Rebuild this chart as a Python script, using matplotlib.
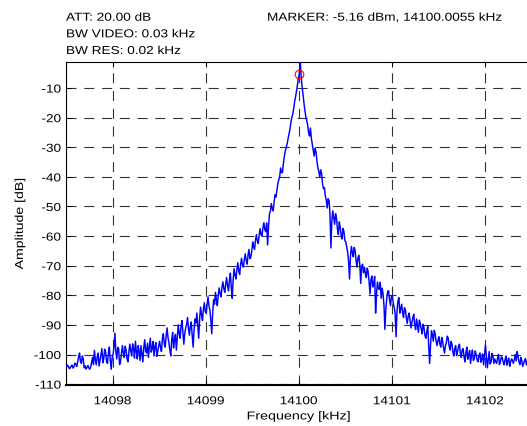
import numpy as np
import matplotlib
matplotlib.use("Agg")
import matplotlib.pyplot as plt
from matplotlib import patheffects
from matplotlib.transforms import Affine2D

# Sweep settings of the trace
freq_start = 14097.5055   # kHz
freq_step = 0.01          # kHz per sample

# Measured amplitude per sample (dB), 0.2 kHz per row
amplitude = [
    -104.3, -103.6, -104.0, -104.8, -104.5, -103.9, -103.6, -104.6, -104.1, -102.9,
    -103.2, -104.0, -102.5, -100.8, -99.5, -102.4, -103.0, -100.5, -101.5, -104.5,
    -103.8, -104.9, -104.4, -103.7, -104.6, -105.0, -104.2, -102.5, -101.0, -103.4,
    -98.6, -101.8, -103.5, -100.6, -99.5, -103.9, -102.0, -100.2, -98.0, -102.8,
    -101.5, -98.2, -99.0, -102.4, -103.0, -99.6, -97.5, -101.8, -105.0, -101.2,
    -100.0, -97.4, -92.8, -99.0, -101.5, -97.6, -98.0, -103.4, -102.5, -99.8,
    -97.0, -99.5, -101.0, -97.2, -98.5, -101.4, -102.5, -99.0, -96.5, -98.8,
    -100.5, -96.4, -98.0, -101.2, -95.5, -99.0, -101.5, -97.0, -99.0, -102.0,
    -97.0, -99.8, -102.5, -97.6, -95.0, -98.8, -99.5, -96.2, -101.0, -97.4,
    -94.5, -99.2, -98.0, -95.6, -100.5, -97.2, -96.0, -100.6, -99.0, -97.0,
    -95.5, -97.8, -99.0, -94.6, -93.0, -96.4, -97.5, -93.8, -91.0, -94.2,
    -96.0, -98.6, -100.5, -95.0, -92.5, -97.8, -95.0, -93.2, -98.5, -94.4,
    -90.0, -92.8, -94.5, -90.6, -88.5, -92.4, -96.5, -93.0, -91.0, -89.8,
    -87.5, -91.2, -93.5, -90.4, -89.0, -93.6, -97.5, -91.8, -88.0, -89.4,
    -86.0, -90.2, -94.5, -87.8, -84.0, -86.6, -88.5, -84.8, -82.5, -85.4,
    -86.0, -83.2, -80.5, -83.6, -85.0, -88.4, -93.0, -86.2, -81.5, -83.0,
    -79.0, -81.6, -83.5, -79.8, -77.5, -79.6, -80.5, -77.2, -75.5, -77.8,
    -79.0, -76.2, -74.0, -76.8, -78.5, -75.0, -72.5, -77.4, -81.0, -74.6,
    -71.0, -73.2, -74.5, -71.4, -69.0, -71.8, -73.0, -69.6, -67.5, -69.8,
    -70.5, -67.8, -66.0, -68.2, -69.5, -66.4, -64.5, -67.6, -67.0, -65.0,
    -62.0, -63.6, -64.5, -61.2, -59.5, -61.8, -62.5, -59.4, -57.5, -59.6,
    -60.0, -57.2, -55.5, -57.8, -58.5, -55.6, -63.0, -56.8, -52.5, -51.6,
    -49.0, -50.8, -51.5, -48.4, -46.0, -46.8, -44.5, -42.2, -41.0, -39.8,
    -37.0, -38.6, -38.5, -35.4, -33.0, -31.2, -30.0, -28.8, -27.0, -25.4,
    -24.0, -21.6, -20.0, -18.8, -17.0, -14.6, -13.0, -11.2, -9.0, -6.8,
    -5.16, -0.5, -6.0, -9.5, -12.0, -15.0, -17.5, -19.6, -21.0, -22.4,
    -25.0, -26.2, -23.5, -27.0, -29.0, -30.8, -33.0, -30.4, -31.5, -34.6,
    -37.0, -38.2, -40.0, -37.6, -39.0, -42.4, -44.0, -43.6, -46.5, -47.8,
    -50.5, -47.4, -48.0, -52.6, -64.0, -54.8, -51.5, -53.8, -56.0, -52.4,
    -54.0, -57.6, -59.5, -55.2, -57.0, -59.8, -61.0, -57.4, -58.5, -61.6,
    -62.0, -63.8, -65.5, -68.6, -74.5, -66.8, -63.5, -65.6, -67.0, -63.8,
    -65.0, -68.2, -70.5, -67.4, -66.5, -69.6, -76.0, -70.2, -69.5, -72.4,
    -70.5, -72.6, -74.0, -70.8, -72.0, -75.4, -79.5, -74.8, -73.5, -77.2,
    -76.0, -73.6, -86.0, -79.4, -75.5, -77.8, -78.0, -75.6, -81.0, -77.6,
    -79.5, -83.4, -91.5, -84.6, -81.0, -78.6, -78.5, -81.6, -83.5, -80.4,
    -80.0, -82.8, -84.0, -86.4, -94.0, -85.2, -82.0, -80.8, -86.0, -84.6,
    -83.0, -85.8, -87.5, -84.2, -85.0, -87.6, -89.5, -87.0, -86.0, -88.6,
    -91.0, -89.2, -87.5, -86.4, -90.0, -91.6, -88.0, -90.2, -92.5, -88.4,
    -89.5, -91.4, -93.0, -89.8, -91.0, -93.6, -94.5, -92.2, -90.5, -96.4,
    -103.0, -97.0, -92.0, -93.4, -95.5, -91.8, -93.0, -95.6, -97.0, -95.2,
    -94.0, -96.4, -97.5, -94.2, -95.5, -97.8, -99.5, -97.0, -96.0, -93.8,
    -94.5, -97.2, -98.5, -95.6, -96.5, -99.2, -100.5, -98.0, -97.0, -100.4,
    -99.0, -97.4, -96.5, -99.6, -101.0, -98.4, -98.0, -100.8, -102.5, -99.4,
    -97.5, -101.6, -100.0, -98.6, -103.0, -100.2, -98.5, -102.0, -101.5, -98.8,
    -100.0, -101.8, -102.5, -100.4, -99.5, -102.6, -101.5, -99.8, -103.5, -100.2,
    -96.8, -100.8, -104.5, -101.6, -99.0, -103.2, -102.5, -99.6, -100.5, -103.0,
    -101.5, -102.4, -103.0, -101.2, -100.0, -103.4, -102.5, -100.8, -101.0, -102.6,
    -103.5, -101.8, -100.5, -103.6, -102.0, -101.2, -104.0, -102.6, -101.5, -102.0,
    -103.0, -101.6, -100.0, -102.2, -99.0, -100.6, -102.5, -103.4, -101.0, -102.0,
    -104.0, -103.0, -102.0, -101.4, -103.5, -102.4, -101.5, -104.2, -103.0, -103.4,
    -102.5,
]

marker_freq = 14100.0055
marker_level = -5.16

x_ticks = [14098, 14099, 14100, 14101, 14102]
y_ticks = [-110, -100, -90, -80, -70, -60, -50, -40, -30, -20, -10]

header_left = ["ATT: 20.00 dB", "BW VIDEO: 0.03 kHz", "BW RES: 0.02 kHz"]
header_right = "MARKER: -5.16 dBm, 14100.0055 kHz"

FONT = "Liberation Sans"
FS = 8.3
plt.rcParams["font.family"] = [FONT, "DejaVu Sans"]
plt.rcParams["font.size"] = FS


class Widen(patheffects.AbstractPathEffect):
    """Draw text slightly stretched along its baseline (wide-tracked look)."""

    def __init__(self, factor, anchor="left"):
        super().__init__()
        self._factor = factor
        self._anchor = anchor

    def draw_path(self, renderer, gc, tpath, affine, rgbFace=None):
        ext = tpath.get_extents()
        if self._anchor == "center":
            x0 = 0.5 * (ext.x0 + ext.x1)
        elif self._anchor == "right":
            x0 = ext.x1
        else:
            x0 = 0.0
        stretch = Affine2D().translate(-x0, 0).scale(self._factor, 1.0).translate(x0, 0)
        renderer.draw_path(gc, tpath, stretch + affine, rgbFace)


WIDE = 1.18

W, H = 527, 426
fig = plt.figure(figsize=(W / 100, H / 100), dpi=100)
ax = fig.add_axes([66 / W, 1 - 385 / H, 465.5 / W, 323 / H])

freq = freq_start + freq_step * np.arange(len(amplitude))
ax.plot(freq, amplitude, color="#0000ff", linewidth=1.05, zorder=3)
ax.plot([marker_freq], [marker_level], marker="o", markersize=6.2,
        markerfacecolor="none", markeredgecolor="red", markeredgewidth=0.8,
        linestyle="none", zorder=4)

ax.set_xlim(14097.5, 14102.5)
ax.set_ylim(-110.3, -1.2)
ax.set_xticks(x_ticks)
ax.set_xticklabels([str(t) for t in x_ticks])
ax.set_yticks(y_ticks)
ax.set_yticklabels([str(t) for t in y_ticks])

ax.grid(True, color="0.2", linewidth=0.8, linestyle=(0, (9.0, 7.0)))
ax.set_axisbelow(True)
ax.tick_params(direction="in", length=3.6, width=0.7, top=True, right=False,
               colors="black", labelsize=FS)
ax.tick_params(axis="x", pad=7.4)
ax.tick_params(axis="y", pad=3.6)

for lbl in ax.get_xticklabels():
    lbl.set_path_effects([Widen(WIDE, "center")])
for lbl in ax.get_yticklabels():
    lbl.set_path_effects([Widen(WIDE, "right")])

for side in ("top", "left"):
    ax.spines[side].set_linewidth(0.8)
ax.spines["bottom"].set_linewidth(1.5)
ax.spines["right"].set_visible(False)

xl = ax.set_xlabel("Frequency [kHz]", labelpad=2.3)
yl = ax.set_ylabel("Amplitude [dB]", labelpad=8.6)
xl.set_path_effects([Widen(1.24, "center")])
yl.set_path_effects([Widen(1.22, "center")])

for text, base in zip(header_left, [20.7, 37.3, 54.0]):
    t = fig.text(66 / W, 1 - base / H, text, ha="left", va="baseline")
    t.set_path_effects([Widen(WIDE, "left")])
t = fig.text(267 / W, 1 - 20.7 / H, header_right, ha="left", va="baseline")
t.set_path_effects([Widen(WIDE, "left")])

fig.savefig("out.png", dpi=100)
